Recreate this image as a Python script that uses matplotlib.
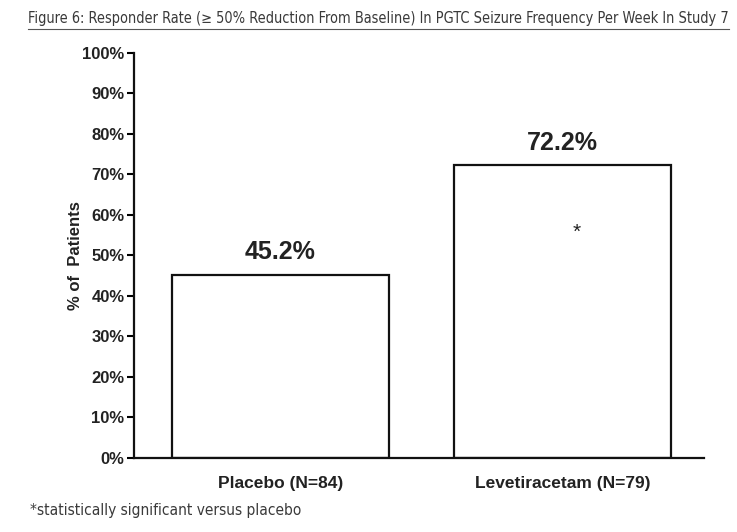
import matplotlib
matplotlib.use("Agg")
import matplotlib.pyplot as plt
from matplotlib.ticker import FuncFormatter

# data
groups = ["Placebo (N=84)", "Levetiracetam (N=79)"]
rates = [45.2, 72.2]
labels = ["45.2%", "72.2%"]
significant = [False, True]
yticks = list(range(0, 101, 10))

title = "Figure 6: Responder Rate (\u2265 50% Reduction From Baseline) In PGTC Seizure Frequency Per Week In Study 7"
footnote = "*statistically significant versus placebo"

plt.rcParams["font.family"] = ["Liberation Sans", "DejaVu Sans"]

fig = plt.figure(figsize=(7.37, 5.32), dpi=100)
ax = fig.add_axes([0.182, 0.14, 0.773, 0.761])


def fit_text(x, y, s, width_px, size, **kw):
    # condensed caption font; shrink until it spans the same width as the original
    t = fig.text(x, y, s, fontsize=size, family=["DejaVu Sans"],
                 fontstretch="condensed", **kw)
    fig.canvas.draw()
    w = t.get_window_extent().width
    t.set_fontsize(size * width_px / w)
    return t


xs = list(range(len(groups)))
ax.bar(xs, rates, width=0.77, color="white", edgecolor="#111111", linewidth=1.6)

for x, r, lab, sig in zip(xs, rates, labels, significant):
    ax.text(x, r + 2.6, lab, ha="center", va="bottom", fontsize=18,
            fontweight="bold", color="#222222")
    if sig:
        ax.text(x + 0.05, r - 16.5, "*", ha="center", va="center",
                fontsize=15, color="#222222")

ax.set_xlim(-0.518, 1.5)
ax.set_ylim(0, 100)
ax.set_yticks(yticks)
ax.yaxis.set_major_formatter(FuncFormatter(lambda v, pos: f"{int(v)}%"))
ax.set_xticks(xs)
ax.set_xticklabels(groups, fontsize=12.5, fontweight="bold", color="#222222")
ax.tick_params(axis="x", length=0, pad=13)
ax.tick_params(axis="y", direction="out", length=5, width=1.5, pad=2,
               labelsize=12, labelcolor="#222222")
for lbl in ax.get_yticklabels():
    lbl.set_fontweight("bold")

for side in ("top", "right"):
    ax.spines[side].set_visible(False)
for side in ("left", "bottom"):
    ax.spines[side].set_linewidth(1.6)
    ax.spines[side].set_color("#111111")

ax.set_ylabel("% of  Patients", fontsize=12, fontweight="bold", color="#222222")
ax.yaxis.set_label_coords(-0.09, 0.5)

t = fit_text(0.038, 0.966, title, 705, 12.5, ha="left", va="center",
             color="#3a3a3a")
fig.canvas.draw()
bb = t.get_window_extent().transformed(fig.transFigure.inverted())
fig.add_artist(plt.Line2D([bb.x0, bb.x1], [bb.y0 - 0.006, bb.y0 - 0.006],
                          transform=fig.transFigure, color="#555555", lw=0.8))

fit_text(0.041, 0.04, footnote, 270, 11.5, ha="left", va="center",
         color="#3a3a3a")

fig.savefig("out.png", dpi=100)
